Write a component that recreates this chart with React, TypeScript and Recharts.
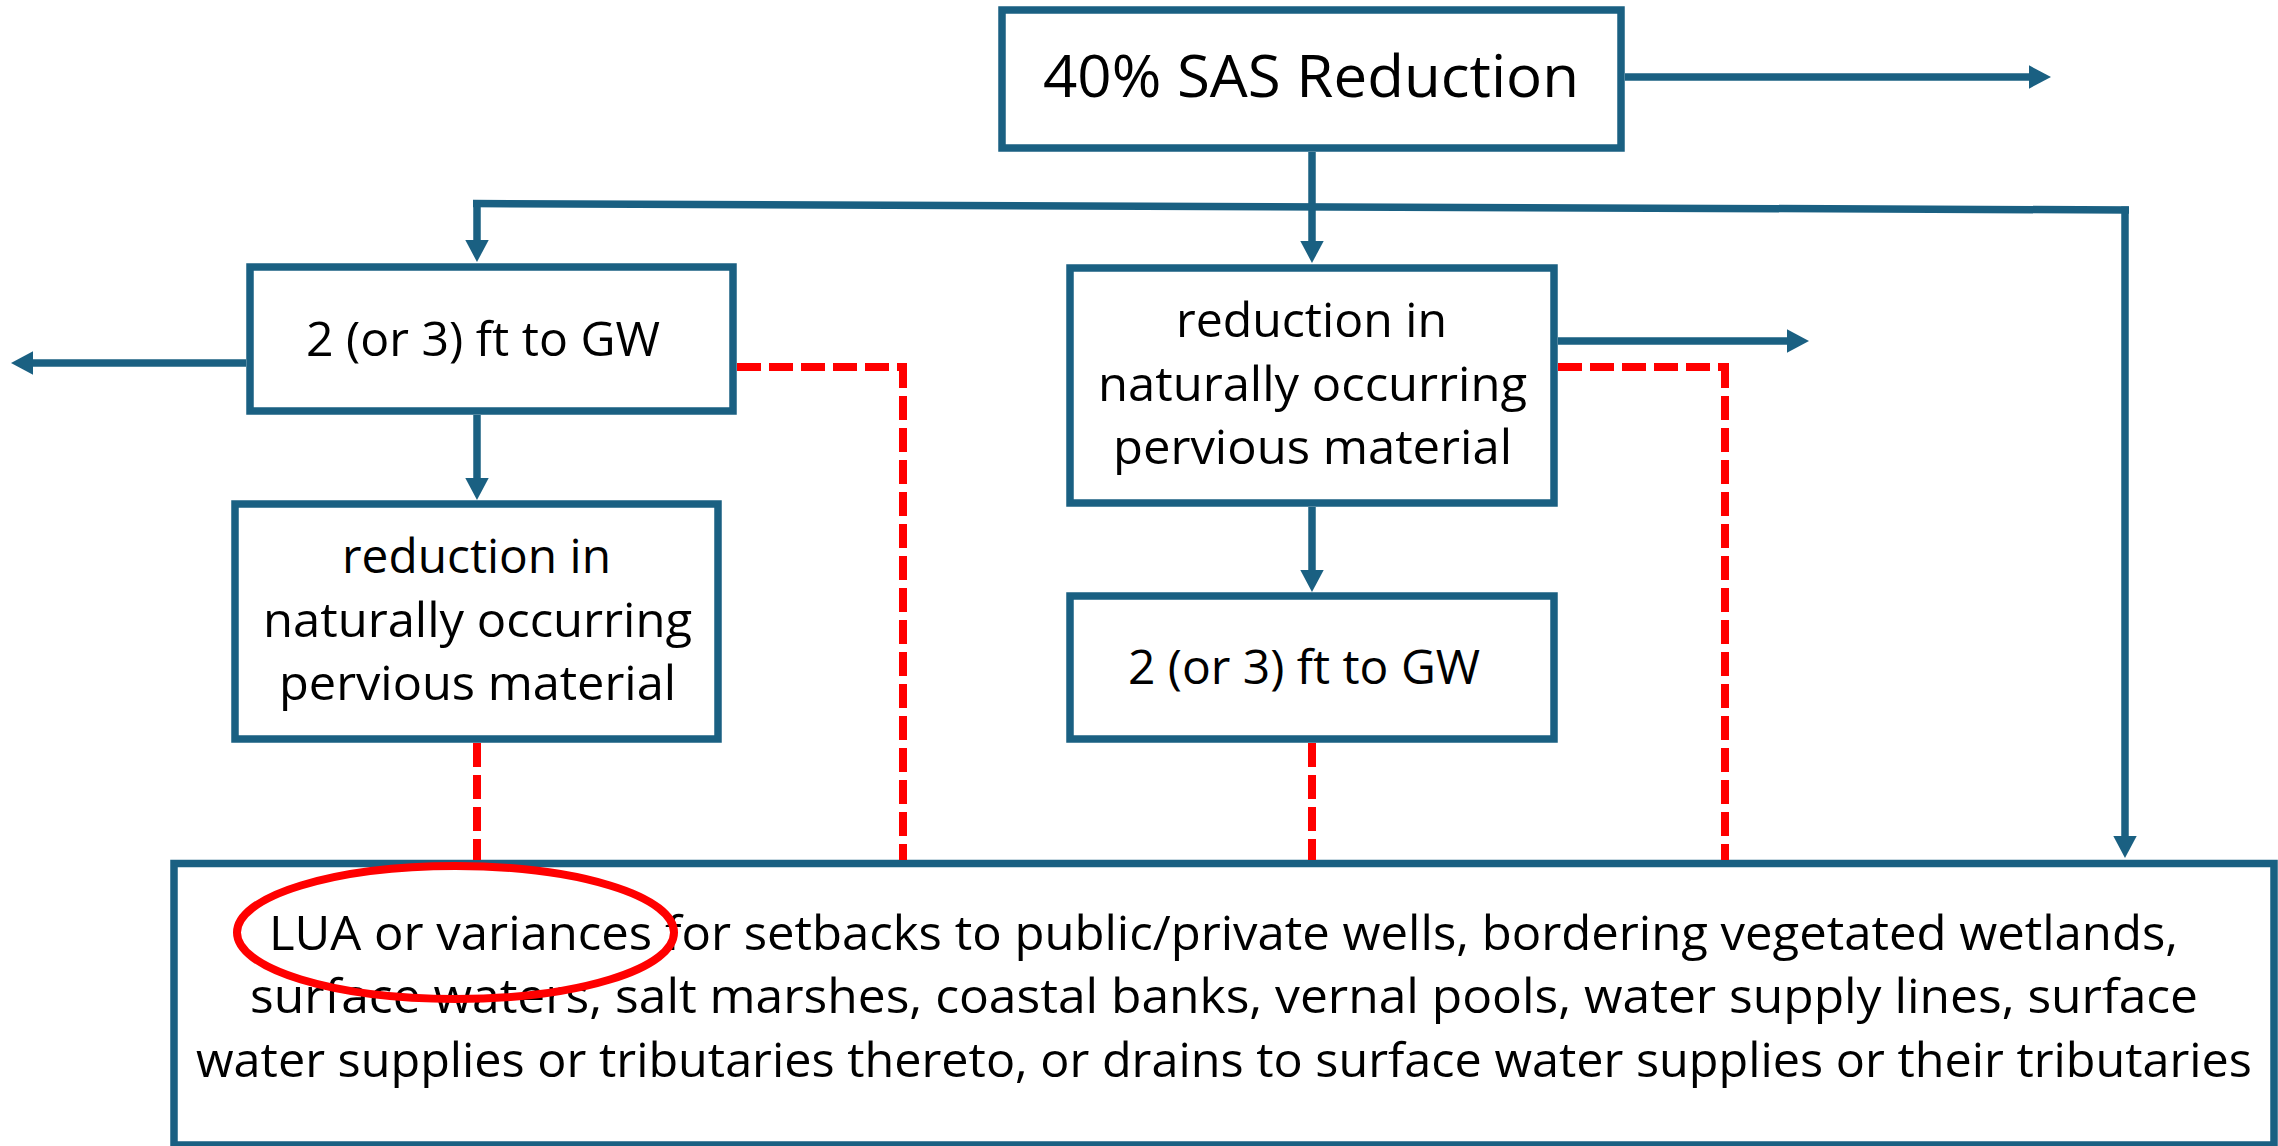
import React from 'react';
import { ScatterChart, Scatter, XAxis, YAxis, ReferenceArea, ReferenceLine } from 'recharts';

const W = 2278;
const H = 1146;
const BLUE = '#1a6082';
const RED = '#ff0000';
const FONT = '"Open Sans", "Noto Sans", sans-serif';

// Flowchart boxes (diagram units)
const boxes = [
  { id: 'sas', x1: 1002, x2: 1621, y1: 10, y2: 148 },
  { id: 'gwLeft', x1: 250, x2: 733, y1: 267, y2: 411 },
  { id: 'pervLeft', x1: 235, x2: 718, y1: 504, y2: 739 },
  { id: 'pervMid', x1: 1070, x2: 1554, y1: 268, y2: 503 },
  { id: 'gwMid', x1: 1070, x2: 1554, y1: 596, y2: 739 },
  { id: 'lua', x1: 174, x2: 2274, y1: 863.5, y2: 1145 },
];

// Text lines inside boxes
const labels = [
  { x: 1311, y: 97, text: '40% SAS Reduction', size: 59, len: 536 },
  { x: 483, y: 356, text: '2 (or 3) ft to GW', size: 48, len: 354 },
  { x: 476.5, y: 573, text: 'reduction in', size: 48, len: 269 },
  { x: 477.5, y: 637, text: 'naturally occurring', size: 48, len: 429 },
  { x: 477.5, y: 700, text: 'pervious material', size: 48, len: 397 },
  { x: 1311.5, y: 337, text: 'reduction in', size: 48, len: 271 },
  { x: 1312.5, y: 401, text: 'naturally occurring', size: 48, len: 429 },
  { x: 1312.5, y: 464, text: 'pervious material', size: 48, len: 399 },
  { x: 1304, y: 684, text: '2 (or 3) ft to GW', size: 48, len: 352 },
  { x: 1223.5, y: 950, text: 'LUA or variances for setbacks to public/private wells, bordering vegetated wetlands,', size: 48, len: 1909 },
  { x: 1224, y: 1013, text: 'surface waters, salt marshes, coastal banks, vernal pools, water supply lines, surface', size: 48, len: 1948 },
  { x: 1224, y: 1077, text: 'water supplies or tributaries thereto, or drains to surface water supplies or their tributaries', size: 48, len: 2056 },
];

// Solid connectors (blue)
const connectors = [
  { x1: 1625, y1: 77, x2: 2031, y2: 77 },
  { x1: 1312, y1: 152, x2: 1312, y2: 243 },
  { x1: 473, y1: 203.5, x2: 2129, y2: 210 },
  { x1: 477, y1: 200, x2: 477, y2: 242 },
  { x1: 2125, y1: 206.5, x2: 2125, y2: 838 },
  { x1: 246, y1: 363, x2: 32, y2: 363 },
  { x1: 477, y1: 415, x2: 477, y2: 480 },
  { x1: 1558, y1: 341, x2: 1789, y2: 341 },
  { x1: 1312, y1: 507, x2: 1312, y2: 572 },
];

// Arrowheads: tip position and direction
const arrowheads = [
  { x: 2051, y: 77, dir: 'right' },
  { x: 1312, y: 263, dir: 'down' },
  { x: 477, y: 262, dir: 'down' },
  { x: 2125, y: 858, dir: 'down' },
  { x: 11, y: 363, dir: 'left' },
  { x: 477, y: 500, dir: 'down' },
  { x: 1809, y: 341, dir: 'right' },
  { x: 1312, y: 592, dir: 'down' },
];

// Dashed red links
const dashedLinks = [
  { x1: 477, y1: 743, x2: 477, y2: 860 },
  { x1: 737, y1: 367, x2: 907, y2: 367 },
  { x1: 903, y1: 364, x2: 903, y2: 860 },
  { x1: 1312, y1: 743, x2: 1312, y2: 860 },
  { x1: 1558, y1: 367, x2: 1729, y2: 367 },
  { x1: 1725, y1: 364, x2: 1725, y2: 860 },
];

// Red highlight ellipse
const highlight = [{ x: 455.5, y: 932.5, rx: 218.5, ry: 66.5 }];

const AL = 22;
const AH = 11.7;

const ArrowShape = (props: any) => {
  const { cx, cy, payload } = props;
  let pts = '';
  if (payload.dir === 'right') pts = `${cx},${cy} ${cx - AL},${cy - AH} ${cx - AL},${cy + AH}`;
  else if (payload.dir === 'left') pts = `${cx},${cy} ${cx + AL},${cy - AH} ${cx + AL},${cy + AH}`;
  else if (payload.dir === 'down') pts = `${cx},${cy} ${cx - AH},${cy - AL} ${cx + AH},${cy - AL}`;
  else pts = `${cx},${cy} ${cx - AH},${cy + AL} ${cx + AH},${cy + AL}`;
  return <polygon points={pts} fill={BLUE} stroke="none" />;
};

const TextShape = (props: any) => {
  const { cx, cy, payload } = props;
  return (
    <text
      x={cx}
      y={cy}
      textAnchor="middle"
      fontFamily={FONT}
      fontSize={payload.size}
      fill="#000"
      textLength={payload.len}
      lengthAdjust="spacingAndGlyphs"
    >
      {payload.text}
    </text>
  );
};

const EllipseShape = (props: any) => {
  const { cx, cy, payload } = props;
  return <ellipse cx={cx} cy={cy} rx={payload.rx} ry={payload.ry} fill="none" stroke={RED} strokeWidth={8} />;
};

export default function App() {
  return (
    <div style={{ position: 'absolute', left: 0, top: 0, width: W, height: H, background: '#fff', overflow: 'hidden' }}>
      <ScatterChart width={W} height={H} margin={{ top: 0, right: 0, bottom: 0, left: 0 }}>
        <XAxis type="number" dataKey="x" domain={[0, W]} hide allowDataOverflow />
        <YAxis type="number" dataKey="y" domain={[0, H]} reversed hide allowDataOverflow />
        {boxes.map((b) => (
          <ReferenceArea
            key={b.id}
            x1={b.x1}
            x2={b.x2}
            y1={b.y1}
            y2={b.y2}
            fill="#fff"
            fillOpacity={1}
            stroke={BLUE}
            strokeWidth={7.5}
            ifOverflow="visible"
          />
        ))}
        {connectors.map((c, i) => (
          <ReferenceLine
            key={`c${i}`}
            segment={[{ x: c.x1, y: c.y1 }, { x: c.x2, y: c.y2 }]}
            stroke={BLUE}
            strokeWidth={7.5}
            ifOverflow="visible"
          />
        ))}
        {dashedLinks.map((c, i) => (
          <ReferenceLine
            key={`d${i}`}
            segment={[{ x: c.x1, y: c.y1 }, { x: c.x2, y: c.y2 }]}
            stroke={RED}
            strokeWidth={8}
            strokeDasharray="24 8"
            ifOverflow="visible"
          />
        ))}
        <Scatter data={arrowheads} shape={ArrowShape} isAnimationActive={false} />
        <Scatter data={labels} shape={TextShape} isAnimationActive={false} />
        <Scatter data={highlight} shape={EllipseShape} isAnimationActive={false} />
      </ScatterChart>
    </div>
  );
}
